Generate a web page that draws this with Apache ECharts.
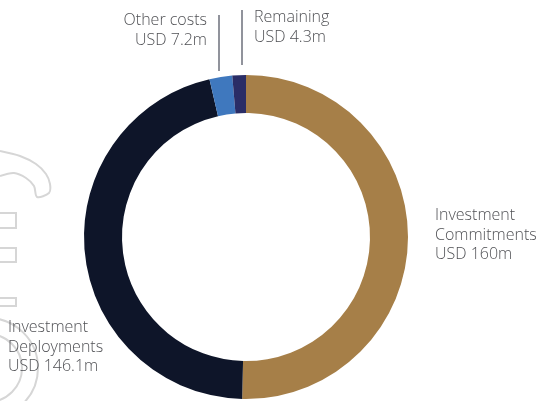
<!DOCTYPE html>
<html>
<head>
<meta charset="utf-8">
<script src="https://cdn.jsdelivr.net/npm/echarts@6/dist/echarts.min.js"></script>
<style>
  html, body { margin: 0; padding: 0; background: #fff; }
  #main { width: 536px; height: 401px; }
</style>
</head>
<body>
<div id="main"></div>
<script>
// chart data
const names = ['Investment Commitments', 'Investment Deployments', 'Other costs', 'Remaining'];
const labelLines = [['Investment', 'Commitments'], ['Investment', 'Deployments'], ['Other costs'], ['Remaining']];
const values = [160, 146.1, 7.2, 4.3];
const valueText = ['USD 160m', 'USD 146.1m', 'USD 7.2m', 'USD 4.3m'];
const colors = ['#A67F48', '#0E1529', '#3F78BE', '#2A2D66'];

const textColor = '#505155';
const fontFamily = '"Open Sans", "Noto Sans", sans-serif';

// label placement (pixels), one entry per slice
const labelPos = [
    { x: 435, y: 206, align: 'left' },
    { x: 8, y: 318, align: 'left' },
    { x: 207, y: 11, align: 'right' },
    { x: 254, y: 8, align: 'left' }
];

function makeLabels() {
    let els = [];
    for (let i in names) {
        els.push({
            type: 'text',
            style: {
                x: labelPos[i].x,
                y: labelPos[i].y,
                text: labelLines[i].concat([valueText[i]]).join('\n'),
                fill: textColor,
                font: '300 16px ' + fontFamily,
                lineHeight: 19.5,
                align: labelPos[i].align,
                verticalAlign: 'top'
            }
        });
    }
    return els;
}

//faint watermark outlines on the left edge
const wmColor = '#D6D6D6';
const wmStyle = { stroke: wmColor, fill: null, lineWidth: 2 };
const watermark = [
    {
        type: 'polyline',
        shape: {
            points: [[0, 151], [20, 156], [36, 164], [46, 174], [50, 184], [49, 193], [37, 197], [34, 186], [26, 178], [14, 173], [0, 176]],
            smooth: 0.3
        },
        style: wmStyle
    },
    { type: 'rect', shape: { x: -2, y: 213, width: 18, height: 15 }, style: wmStyle },
    { type: 'rect', shape: { x: -2, y: 248, width: 18, height: 14 }, style: wmStyle },
    { type: 'rect', shape: { x: -2, y: 298, width: 18, height: 8 }, style: wmStyle },
    { type: 'circle', shape: { cx: -12, cy: 368, r: 50 }, style: wmStyle },
    { type: 'circle', shape: { cx: -12, cy: 368, r: 34 }, style: wmStyle }
];

//leader lines for the two small slices
const leaders = [
    { type: 'line', shape: { x1: 219, y1: 15, x2: 219, y2: 71 }, style: { stroke: '#6D6F7B', lineWidth: 1.5 } },
    { type: 'line', shape: { x1: 242, y1: 10, x2: 242, y2: 65 }, style: { stroke: '#6D6F7B', lineWidth: 1.5 } }
];

let pieData = [];
for (let i in names) {
    pieData.push({ name: names[i], value: values[i], itemStyle: { color: colors[i] } });
}

let optionObj = {
    animation: false,
    backgroundColor: '#fff',
    graphic: watermark.map(g => Object.assign({ z: -10, silent: true }, g))
        .concat(leaders)
        .concat(makeLabels()),
    series: [
        {
            type: 'pie',
            center: [246, 237],
            radius: [124, 162],
            startAngle: 90,
            clockwise: true,
            label: { show: false },
            labelLine: { show: false },
            emphasis: { disabled: true },
            itemStyle: { borderWidth: 0 },
            data: pieData
        }
    ]
};

let chartDom = document.getElementById('main');
let myChart = echarts.init(chartDom);
myChart.setOption(optionObj);
</script>
</body>
</html>
